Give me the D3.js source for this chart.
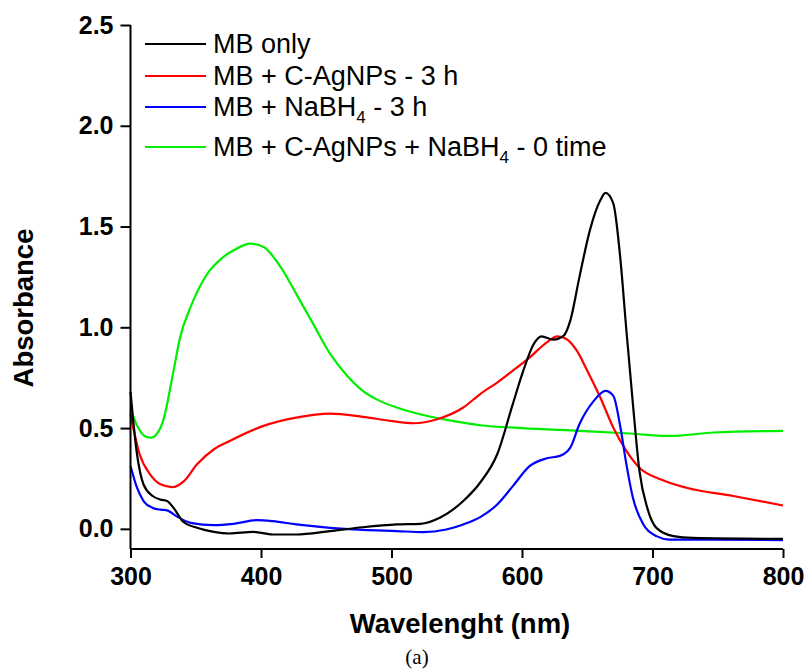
<!DOCTYPE html>
<head>
  <meta charset="utf-8">
  <title>Absorbance of MB</title>
  <style>
    body { margin: 0; background: #fff; }
    .axis path, .axis line { stroke: #000; stroke-width: 2px; }
    .axis text { font-family: "Liberation Sans", Arial, sans-serif; font-weight: bold; font-size: 25px; fill: #000; }
  </style>
</head>

<body>
  <script src="https://cdn.jsdelivr.net/npm/d3@7/dist/d3.min.js"></script>

  <script>
    // series data (wavelength in nm, absorbance)
    var mbWave = [300, 305, 310, 317, 323, 328, 333, 340, 351, 364, 376, 394, 409, 427, 453, 478, 504, 522, 537, 555, 568, 581, 593, 601, 609, 615, 624, 632, 637, 644, 652, 660, 664, 670, 675, 680, 685, 690, 696, 703, 716, 731, 800];
    var mbAbs  = [0.68, 0.37, 0.22, 0.163, 0.145, 0.138, 0.104, 0.038, 0.005, -0.015, -0.023, -0.015, -0.028, -0.028, -0.011, 0.008, 0.022, 0.025, 0.055, 0.138, 0.23, 0.37, 0.62, 0.785, 0.917, 0.955, 0.939, 0.959, 1.033, 1.249, 1.481, 1.63, 1.667, 1.614, 1.365, 0.984, 0.619, 0.287, 0.104, 0.005, -0.036, -0.045, -0.05];

    var cagWave = [300, 307, 315, 323, 332, 341, 351, 364, 376, 402, 427, 453, 478, 499, 517, 535, 555, 568, 581, 593, 606, 619, 627, 634, 642, 650, 660, 670, 680, 690, 706, 726, 762, 800];
    var cagAbs  = [0.569, 0.37, 0.27, 0.221, 0.207, 0.237, 0.32, 0.395, 0.436, 0.511, 0.552, 0.572, 0.556, 0.536, 0.524, 0.544, 0.602, 0.669, 0.726, 0.785, 0.851, 0.925, 0.955, 0.942, 0.884, 0.785, 0.652, 0.502, 0.387, 0.303, 0.246, 0.204, 0.163, 0.116];

    var nabWave = [300, 305, 310, 317, 323, 328, 335, 346, 364, 379, 397, 409, 427, 453, 478, 504, 524, 542, 555, 568, 581, 593, 606, 619, 629, 637, 644, 655, 664, 670, 675, 680, 685, 693, 703, 713, 747, 800];
    var nabAbs  = [0.312, 0.204, 0.138, 0.104, 0.095, 0.092, 0.063, 0.03, 0.018, 0.025, 0.043, 0.038, 0.022, 0.005, -0.005, -0.011, -0.016, -0.003, 0.022, 0.058, 0.121, 0.212, 0.312, 0.35, 0.362, 0.403, 0.519, 0.635, 0.685, 0.66, 0.519, 0.32, 0.154, 0.022, -0.036, -0.053, -0.053, -0.056];

    var allWave = [300, 306, 311, 316, 320, 325, 333, 338, 346, 358, 371, 379, 392, 402, 415, 427, 440, 453, 466, 478, 491, 504, 530, 555, 568, 600, 644, 683, 711, 721, 747, 800];
    var allAbs  = [0.594, 0.5, 0.46, 0.453, 0.47, 0.536, 0.785, 0.95, 1.10, 1.257, 1.348, 1.382, 1.415, 1.398, 1.30, 1.166, 1.017, 0.868, 0.76, 0.685, 0.635, 0.602, 0.556, 0.527, 0.514, 0.50, 0.486, 0.473, 0.461, 0.463, 0.478, 0.486];

    var seriesNames = ["MB only", "MB + C-AgNPs - 3 h", "MB + NaBH4 - 3 h", "MB + C-AgNPs + NaBH4 - 0 time"];
    var seriesColors = ["#000000", "#ff0000", "#0000ff", "#00ee00"];

    var xTicks = [300, 400, 500, 600, 700, 800];
    var yTicks = [0.0, 0.5, 1.0, 1.5, 2.0, 2.5];

    // dimensions of the plot area
    var w = 806,
        h = 672,
        plotLeft = 130.5,
        plotRight = 783,
        plotTop = 25,
        plotBottom = 549;

    var x = d3.scaleLinear().domain([300, 800]).range([plotLeft, plotRight]);
    var y = d3.scaleLinear().domain([-0.1, 2.5]).range([plotBottom, plotTop]);

    var svg = d3.select("body").append("svg").attr("width", w).attr("height", h);
    svg.append("rect").attr("width", w).attr("height", h).attr("fill", "#fff");

    // build series from the arrays
    var series = [
      { name: seriesNames[0], color: seriesColors[0], pts: d3.zip(mbWave, mbAbs) },
      { name: seriesNames[1], color: seriesColors[1], pts: d3.zip(cagWave, cagAbs) },
      { name: seriesNames[2], color: seriesColors[2], pts: d3.zip(nabWave, nabAbs) },
      { name: seriesNames[3], color: seriesColors[3], pts: d3.zip(allWave, allAbs) }
    ];

    var line = d3.line()
      .x(function(d) { return x(d[0]); })
      .y(function(d) { return y(d[1]); })
      .curve(d3.curveMonotoneX);

    // draw green first so black sits on top like the original
    [3, 1, 2, 0].forEach(function(i) {
      svg.append("path")
        .datum(series[i].pts)
        .attr("fill", "none")
        .attr("stroke", series[i].color)
        .attr("stroke-width", 2.2)
        .attr("stroke-linejoin", "round")
        .attr("d", line);
    });

    // axes
    var xAxis = d3.axisBottom(x).tickValues(xTicks).tickSize(9).tickPadding(9).tickFormat(d3.format("d"));
    var yAxis = d3.axisLeft(y).tickValues(yTicks).tickSize(10).tickPadding(7).tickFormat(d3.format(".1f"));

    svg.append("g").attr("class", "axis").attr("transform", "translate(0," + plotBottom + ")").call(xAxis)
      .call(function(g) { g.select(".domain").attr("d", "M" + plotLeft + ",0H" + plotRight); });
    svg.append("g").attr("class", "axis").attr("transform", "translate(" + plotLeft + ",0)").call(yAxis)
      .call(function(g) { g.select(".domain").attr("d", "M0," + plotTop + "V" + plotBottom); });

    // axis titles
    svg.append("text")
      .attr("x", 460)
      .attr("y", 633)
      .attr("text-anchor", "middle")
      .style("font-family", "'Liberation Sans', Arial, sans-serif")
      .style("font-weight", "bold")
      .style("font-size", "27.5px")
      .text("Wavelenght (nm)");

    svg.append("text")
      .attr("transform", "translate(33,308) rotate(-90)")
      .attr("text-anchor", "middle")
      .style("font-family", "'Liberation Sans', Arial, sans-serif")
      .style("font-weight", "bold")
      .style("font-size", "27.5px")
      .text("Absorbance");

    svg.append("text")
      .attr("x", 417)
      .attr("y", 664)
      .attr("text-anchor", "middle")
      .style("font-family", "'Liberation Serif', 'Times New Roman', serif")
      .style("font-size", "21px")
      .text("(a)");

    // legend
    var legendY = [44, 76, 107, 147];
    var legend = svg.append("g")
      .style("font-family", "'Liberation Sans', Arial, sans-serif")
      .style("font-size", "27px");

    series.forEach(function(s, i) {
      legend.append("line")
        .attr("x1", 145).attr("x2", 206)
        .attr("y1", legendY[i]).attr("y2", legendY[i])
        .attr("stroke", s.color)
        .attr("stroke-width", 2.2);

      var t = legend.append("text")
        .attr("x", 213)
        .attr("y", legendY[i] + 9);

      // NaBH4 gets a subscript 4
      var parts = s.name.split("NaBH4");
      if (parts.length > 1) {
        t.append("tspan").text(parts[0] + "NaBH");
        t.append("tspan").attr("dy", 7).style("font-size", "17px").text("4");
        t.append("tspan").attr("dy", -7).text(parts[1]);
      } else {
        t.text(s.name);
      }
    });
  </script>
</body>
